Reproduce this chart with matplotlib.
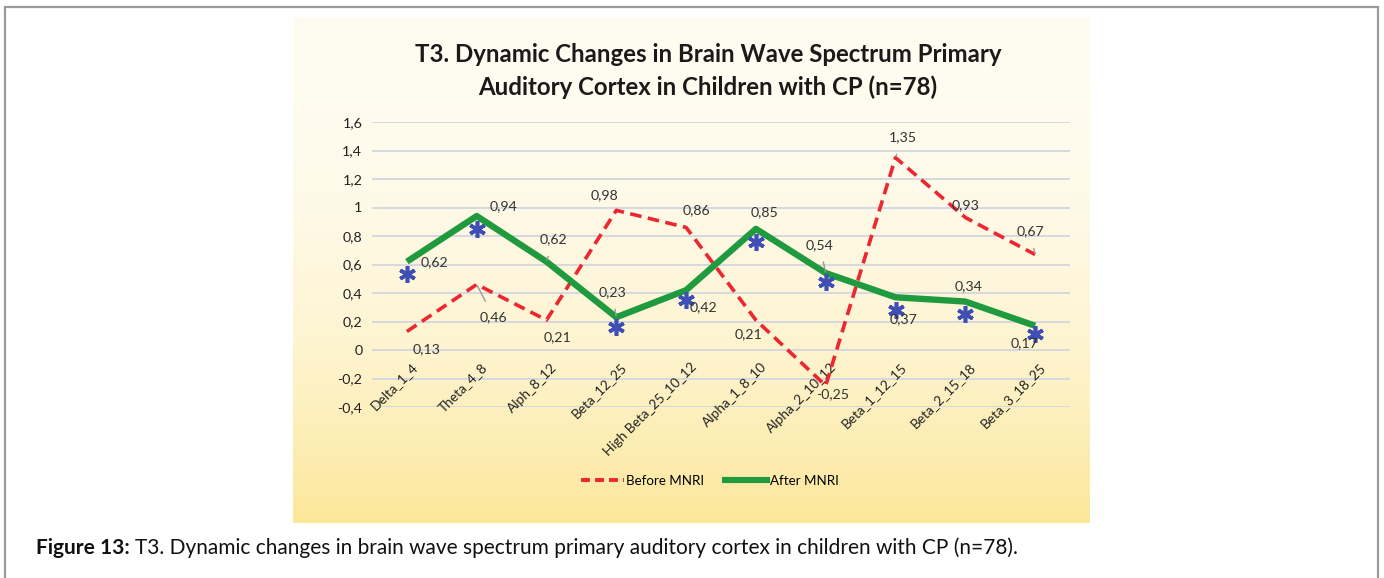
import numpy as np
import matplotlib
matplotlib.use("Agg")
import matplotlib.pyplot as plt
from matplotlib.patches import Rectangle
from matplotlib.lines import Line2D

categories = ["Delta_1_4", "Theta_4_8", "Alph_8_12", "Beta_12_25", "High Beta_25_10_12",
              "Alpha_1_8_10", "Alpha_2_10_12", "Beta_1_12_15", "Beta_2_15_18", "Beta_3_18_25"]
before = [0.13, 0.46, 0.21, 0.98, 0.86, 0.21, -0.25, 1.35, 0.93, 0.67]
after = [0.62, 0.94, 0.62, 0.23, 0.42, 0.85, 0.54, 0.37, 0.34, 0.17]
stars = [0.53, 0.85, np.nan, 0.16, 0.35, 0.76, 0.48, 0.28, 0.25, 0.11]
yticks = [-0.4, -0.2, 0, 0.2, 0.4, 0.6, 0.8, 1.0, 1.2, 1.4, 1.6]

FONT = "Lato"
W, H = 1384, 578
fig = plt.figure(figsize=(W / 100, H / 100), dpi=100)
fig.patch.set_facecolor("white")

def fx(px): return px / W
def fy(py): return 1 - py / H

# outer border
fig.patches.append(Rectangle((fx(5), fy(600)), fx(1378) - fx(5), fy(7) - fy(600),
                             transform=fig.transFigure, fill=False, edgecolor="#9a9a9a",
                             linewidth=1.6, zorder=0))

# gradient chart background
bg = fig.add_axes([fx(293), fy(523), fx(1090) - fx(293), fy(17) - fy(523)])
top = np.array([1.0, 0.988, 0.945])
bot = np.array([0.988, 0.905, 0.60])
t = np.linspace(0, 1, 256)[:, None]
t = t ** 2.2
grad = top[None, :] * (1 - t) + bot[None, :] * t
bg.imshow(grad[:, None, :].repeat(2, axis=1), aspect="auto", extent=[0, 1, 0, 1], origin="upper")
bg.set_axis_off()
bg.set_zorder(0)

ax = fig.add_axes([fx(372), fy(407), fx(1070) - fx(372), fy(122) - fy(407)])
ax.set_zorder(1)
ax.patch.set_alpha(0)
x = np.arange(len(categories))
ax.set_xlim(-0.5, len(categories) - 0.5)
ax.set_ylim(-0.4, 1.6)
for v in yticks:
    ax.axhline(v, color="#d3d6e0", lw=1.3, zorder=1)
for s in ax.spines.values():
    s.set_visible(False)
ax.set_yticks(yticks)
ax.set_yticklabels([("%g" % v).replace(".", ",") for v in yticks], fontsize=10.3,
                   family=FONT, color="#222222")
ax.tick_params(axis="y", length=0, pad=7)
ax.tick_params(axis="x", length=0)
ax.set_xticks([])

for i, c in enumerate(categories):
    ax.text(i + 0.06, -0.075, c, rotation=45, rotation_mode="anchor", ha="right", va="top",
            fontsize=9.8, family=FONT, color="#222222")

red = "#ee2630"
green = "#1f9a3e"
l1, = ax.plot(x, before, color=red, lw=2.6, dashes=(3.2, 1.8), zorder=3, solid_capstyle="butt")
l2, = ax.plot(x, after, color=green, lw=4.6, zorder=4, solid_capstyle="butt")
ax.plot(x, stars, linestyle="none", marker=(6, 2, 0), markersize=12, markeredgewidth=2.6,
        color="#3f4fb5", zorder=5)

def fmt(v):
    return ("%.2f" % v).replace(".", ",")

# label offsets in pixels (dx, dy), leader flag
before_off = [(20, -18, False), (17, -33, True), (11, -17, False), (-12, 15, False), (10, 17, False),
              (-7, -14, False), (7, -9, False), (7, 20, True), (0, 12, False), (-5, 23, True)]
after_off = [(28, -1, False), (27, 10, False), (7, 22, True), (-4, 25, True), (17, -17, False),
             (9, 17, False), (-6, 28, True), (8, -22, False), (3, 15, False), (-11, -17, False)]

def label(vals, offs):
    for i, (v, (dx, dy, lead)) in enumerate(zip(vals, offs)):
        ap = dict(arrowstyle="-", color="#999999", lw=1.0, shrinkA=6, shrinkB=1) if lead else None
        ax.annotate(fmt(v), xy=(i, v), xytext=(dx * 0.72, dy * 0.72), textcoords="offset points",
                    ha="center", va="center", fontsize=10.2, family=FONT, color="#333333",
                    arrowprops=ap, zorder=6)

label(before, before_off)
label(after, after_off)

# title
fig.text(fx(708), fy(55), "T3. Dynamic Changes in Brain Wave Spectrum Primary", ha="center",
         va="center", fontsize=17.3, fontweight="bold", family=FONT, color="#1a1a1a")
fig.text(fx(708), fy(87), "Auditory Cortex in Children with CP (n=78)", ha="center",
         va="center", fontsize=17.3, fontweight="bold", family=FONT, color="#1a1a1a")

# legend
h1 = Line2D([], [], color=red, lw=2.8, dashes=(2.3, 1.3))
h2 = Line2D([], [], color=green, lw=4.4)
fig.legend([h1, h2], ["Before MNRI", "After MNRI"], loc="center", bbox_to_anchor=(fx(710), fy(481)),
           ncol=2, frameon=False, prop=dict(family=FONT, size=9.6), handlelength=3.2,
           handletextpad=0.2, columnspacing=1.5)

# caption
renderer = fig.canvas.get_renderer()
t1 = fig.text(fx(36), fy(548), "Figure 13:", ha="left", va="center", fontsize=15.0,
              fontweight="bold", family=FONT, color="#111111")
bb = t1.get_window_extent(renderer)
fig.text(bb.x1 / W + fx(5), fy(548), "T3. Dynamic changes in brain wave spectrum primary auditory cortex in children with CP (n=78).",
         ha="left", va="center", fontsize=15.0, family=FONT, color="#111111")

fig.savefig("out.png", dpi=100)
